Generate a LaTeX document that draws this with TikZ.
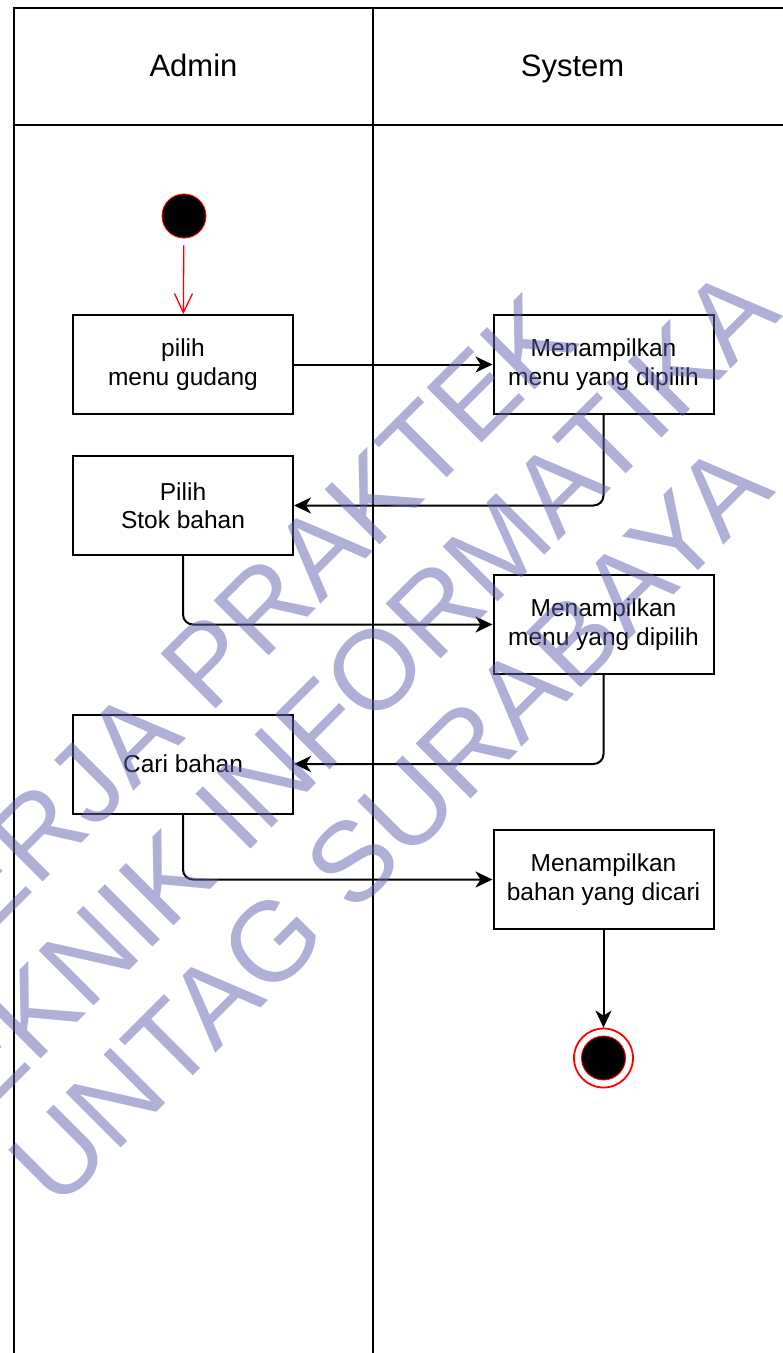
\documentclass[tikz,border=0pt]{standalone}
\usepackage{fontspec}
\setmainfont{Liberation Sans}
\usetikzlibrary{arrows.meta,positioning}

\definecolor{wmark}{RGB}{96,96,176}

\begin{document}
\begin{tikzpicture}[
  x=1pt, y=-1pt,
  lane/.style={line width=2pt, black},
  head/.style={anchor=base, font=\fontsize{31}{37}\selectfont},
  act/.style={draw, line width=2pt, minimum width=220pt, minimum height=99pt, inner sep=0pt, align=center, font=\fontsize{24.5}{28.5}\selectfont},
  flow/.style={-{Stealth[length=17pt, width=16pt, inset=5pt]}, line width=2pt, rounded corners=10pt},
  startflow/.style={-{Straight Barb[length=19pt, width=18pt]}, line width=1.3pt, red, shorten <=7pt},
  wm/.style={rotate=45, inner sep=0pt, text=wmark, opacity=0.5, font=\fontsize{113}{113}\selectfont},
]

\useasboundingbox (0,0) rectangle (783,1353);

% Swimlanes
\draw[lane] (14,1353) -- (14,8) -- (783,8);
\draw[lane] (14,125) -- (783,125);
\draw[lane] (373,8) -- (373,1353);
\node[head] (admin) at (193.5,76.5) {Admin};
\node[head] (system) at (572.5,76.5) {System};

% Start / end
\node[circle, fill=black, draw=red, line width=0.9pt, minimum size=44pt, inner sep=0pt] (start) at (184,216) {};
\node[circle, fill=white, draw=red, line width=1.8pt, minimum size=59pt, inner sep=0pt] (stop) at (603.5,1058) {};
\node[circle, fill=black, draw=red, line width=0.9pt, minimum size=44pt, inner sep=0pt] (stopdot) at (stop) {};

% Activities (Admin)
\node[act] (pilih) at (183,364.5) {pilih\\menu gudang};
\node[act] (stok) at (183,505.5) {Pilih\\Stok bahan};
\node[act] (cari) at (183,764) {Cari bahan};

% Activities (System)
\node[act] (show1) at (603.5,364.5) {Menampilkan\\menu yang dipilih};
\node[act] (show2) at (603.5,624.5) {Menampilkan\\menu yang dipilih};
\node[act] (show3) at (603.5,879.5) {Menampilkan\\bahan yang dicari};

% Flow
\draw[startflow] (start) -- (pilih);
\draw[flow] (pilih) -- (show1);
\draw[flow] (show1.south) |- (stok.east);
\draw[flow] (stok.south) |- (show2.west);
\draw[flow] (show2.south) |- (cari.east);
\draw[flow] (cari.south) |- (show3.west);
\draw[flow] (show3) -- (stop);

% Watermark
\begin{scope}
  \clip (0,0) rectangle (783,1353);
  \node[wm, anchor=base east] (wm1) at (582.5,342.5) {KERJA PRAKTEK};
  \node[wm, anchor=base east] (wm2) at (783.5,316.5) {TEKNIK INFORMATIKA};
  \node[wm, anchor=base west] (wm3) at (57,1212) {UNTAG SURABAYA};
\end{scope}

\end{tikzpicture}
\end{document}
